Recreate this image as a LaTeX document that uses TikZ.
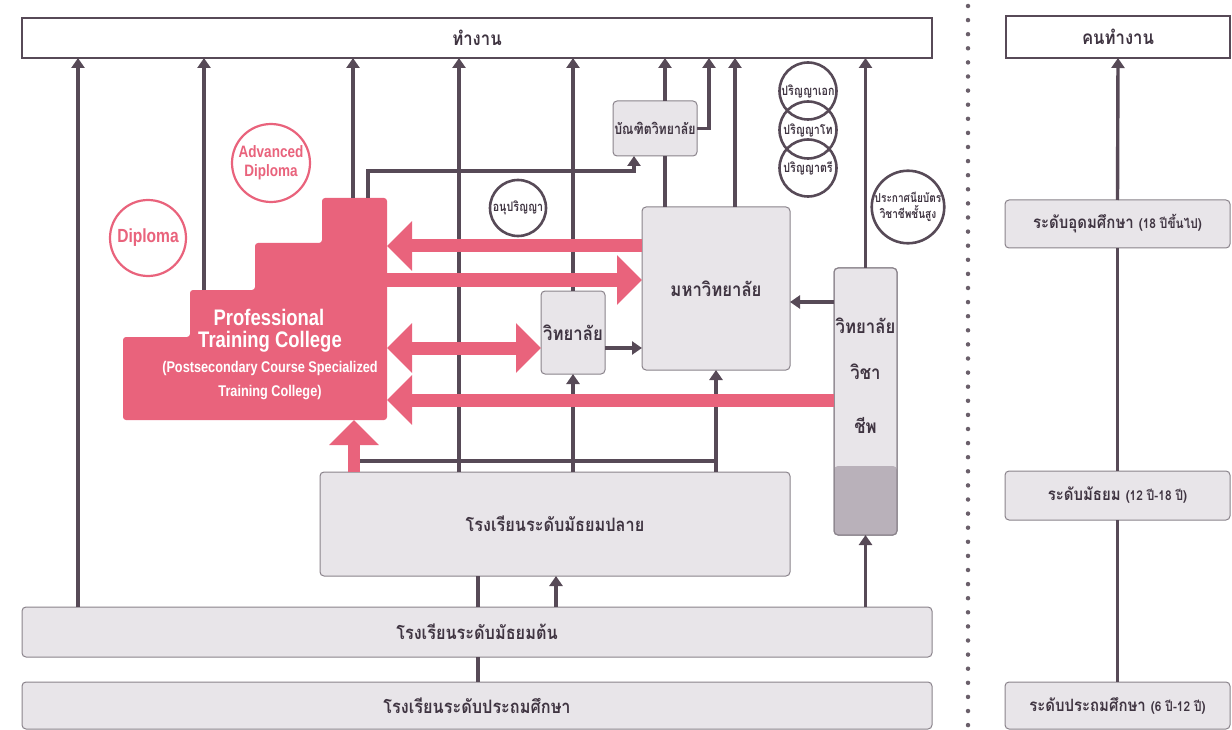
\documentclass[tikz,border=0pt]{standalone}
\usepackage{fontspec}
\setmainfont{Liberation Sans}
\newfontfamily\thai[Script=Thai,FakeStretch=0.88]{Loma}
\newfontfamily\thaic[Script=Thai,FakeStretch=0.82]{Loma}
\newfontfamily\cond[FakeStretch=0.82]{Liberation Sans}
\usetikzlibrary{arrows.meta}
\definecolor{lnc}{HTML}{574A57}
\definecolor{dotc}{HTML}{6A5F6A}
\definecolor{pk}{HTML}{E9637C}
\definecolor{gf}{HTML}{E8E5E9}
\definecolor{gb}{HTML}{8A838B}
\definecolor{gd}{HTML}{B9B1BA}
\definecolor{tx}{HTML}{3F3441}
\tikzset{
  ln/.style={draw=lnc, line width=3.4pt},
  arr/.style={ln, -{Triangle[width=13pt,length=10pt]}},
  gbox/.style={draw=gb, fill=gf, line width=1pt, rounded corners=4pt, inner sep=0pt, outer sep=0pt, text=tx, font=\thai\bfseries\fontsize{18.5}{21}\selectfont},
  wbox/.style={draw=lnc, fill=white, line width=2.4pt, inner sep=0pt, outer sep=0pt, text=tx, font=\thai\bfseries\fontsize{19}{21}\selectfont},
  pkarr/.style={draw=pk, line width=13pt, -{Triangle[width=48pt,length=25pt]}},
  pkdbl/.style={draw=pk, line width=13pt, {Triangle[width=48pt,length=25pt]}-{Triangle[width=48pt,length=25pt]}},
  pcirc/.style={circle, draw=pk, fill=white, line width=2.2pt, text=pk, inner sep=0pt, align=center, font=\cond\bfseries\fontsize{16.5}{19}\selectfont},
  dcirc/.style={circle, draw=lnc, line width=2.6pt, text=tx, inner sep=0pt, align=center, font=\thaic\bfseries\fontsize{13}{15}\selectfont},
  ptct/.style={text=white, font=\cond\bfseries},
  voct/.style={text=tx, font=\thai\bfseries\fontsize{19}{21}\selectfont}
}
\begin{document}
\begin{tikzpicture}[x=1pt,y=-1pt]
\useasboundingbox (0,0) rectangle (1232,730);
% dotted separator
\draw[dotc, line width=4.5pt, line cap=round, dash pattern=on 0pt off 14.1pt] (968,6) -- (968,728);
% top boxes
\node[wbox, minimum width=910pt, minimum height=40pt] (work) at (477,38) {ทำงาน};
\node[wbox, minimum width=224pt, minimum height=42pt] (worker) at (1118,37) {คนทำงาน};
% right column
\node[gbox, minimum width=225pt, minimum height=48pt, font=\thai\bfseries\fontsize{17}{20}\selectfont] (highR) at (1117.5,224) {ระดับอุดมศึกษา {\fontsize{13.5}{15}\selectfont (18 ปีขึ้นไป)}};
\node[gbox, minimum width=225pt, minimum height=49pt, font=\thai\bfseries\fontsize{17}{20}\selectfont] (secR) at (1117.5,495.5) {ระดับมัธยม {\fontsize{13.5}{15}\selectfont (12 ปี-18 ปี)}};
\node[gbox, minimum width=225pt, minimum height=47pt, font=\thai\bfseries\fontsize{17}{20}\selectfont] (primR) at (1117.5,705.5) {ระดับประถมศึกษา {\fontsize{13.5}{15}\selectfont (6 ปี-12 ปี)}};
\draw[arr] (highR.north) -- (worker.south);
\draw[ln] (highR.south) -- (secR.north);
\draw[ln] (secR.south) -- (primR.north);
% left boxes
\node[gbox, minimum width=910pt, minimum height=47pt] (prim) at (477,705.5) {โรงเรียนระดับประถมศึกษา};
\node[gbox, minimum width=910pt, minimum height=50pt] (lowsec) at (477,632) {โรงเรียนระดับมัธยมต้น};
\node[gbox, minimum width=470pt, minimum height=104pt] (upsec) at (555,524) {โรงเรียนระดับมัธยมปลาย};
\node[gbox, minimum width=63pt, minimum height=267pt,
  path picture={\fill[gd] (path picture bounding box.south west) rectangle ([yshift=69pt]path picture bounding box.south east);}] (voc) at (865.5,401.5) {};
\draw[gb, line width=1pt, rounded corners=4pt] (voc.south west) rectangle (voc.north east);
\node[voct] (voct1) at (865.5,326) {วิทยาลัย};
\node[voct] (voct2) at (865.5,372) {วิชา};
\node[voct] (voct3) at (865.5,425) {ชีพ};
\node[gbox, minimum width=148pt, minimum height=163pt, font=\thai\bfseries\fontsize{19}{21}\selectfont] (uni) at (716,288.5) {มหาวิทยาลัย};
\node[gbox, minimum width=64pt, minimum height=83pt, font=\thai\bfseries\fontsize{19}{21}\selectfont] (college) at (573,332.5) {วิทยาลัย};
\node[gbox, minimum width=84pt, minimum height=55pt, font=\thaic\bfseries\fontsize{15}{17}\selectfont] (grad) at (655,128.5) {บัณฑิตวิทยาลัย};
% PTC stair shape
\fill[pk, rounded corners=3pt] (123,420) -- (123,337) -- (190,337) -- (190,290) -- (255,290) -- (255,243) -- (322,243) -- (322,198) -- (387,198) -- (387,420) -- cycle;
\node[inner sep=0pt, outer sep=0pt, minimum width=264pt, minimum height=222pt] (ptc) at (255,309) {};
\node[ptct, font=\cond\bfseries\fontsize{22.5}{24}\selectfont] (p1) at (269,317) {Professional};
\node[ptct, font=\cond\bfseries\fontsize{22.5}{24}\selectfont] (p2) at (270,342) {Training College};
\node[ptct, font=\cond\bfseries\fontsize{15.5}{17}\selectfont] (p3) at (270,368) {(Postsecondary Course Specialized};
\node[ptct, font=\cond\bfseries\fontsize{15.5}{17}\selectfont] (p4) at (270,393) {Training College)};
% circles
\node[pcirc, minimum size=76pt, font=\cond\bfseries\fontsize{19}{21}\selectfont] (dip) at (148,238) {Diploma};
\node[pcirc, minimum size=78pt] (adip) at (271,163) {Advanced\\Diploma};
\node[dcirc, minimum size=56pt] (anu) at (518,208) {อนุปริญญา};
\node[dcirc, minimum size=57pt] (phd) at (808,91) {ปริญญาเอก};
\node[dcirc, minimum size=57pt] (ms) at (808,130) {ปริญญาโท};
\node[dcirc, minimum size=57pt] (ba) at (808,168) {ปริญญาตรี};
\node[dcirc, minimum size=68pt, font=\thaic\bfseries\fontsize{12.3}{16}\selectfont] (cert) at (908,207) {ประกาศนียบัตร\\วิชาชีพชั้นสูง};
% dark connectors
\draw[arr] (lowsec.north -| 78,0) -- (work.south -| 78,0);
\coordinate (s3) at (204,290);
\draw[arr] (s3) -- (work.south -| s3);
\draw[arr] (ptc.north -| 353,0) -- (work.south -| 353,0);
\draw[arr] (ptc.north -| 368,0) -- (368,171) -| (grad.south -| 634,0);
\draw[arr] (upsec.north -| 459,0) -- (work.south -| 459,0);
\draw[arr] (college.north) -- (work.south -| college.north);
\draw[arr] (upsec.north -| college.south) -- (college.south);
\draw[arr] (upsec.north -| 716,0) -- (uni.south -| 716,0);
\draw[ln] (358,461) -- (716,461);
\draw[ln] (uni.north -| 665,0) -- (grad.south -| 665,0);
\draw[arr] (grad.north -| 665,0) -- (work.south -| 665,0);
\draw[arr] (grad.east) -- (grad.east -| 709,0) -- (work.south -| 709,0);
\draw[arr] (uni.north -| 735,0) -- (work.south -| 735,0);
\draw[arr] (voc.north) -- (work.south -| voc.north);
\draw[arr] (voc.west |- 0,302) -- (uni.east |- 0,302);
\draw[arr] (college.east |- 0,348) -- (uni.west |- 0,348);
\draw[ln] (upsec.south -| 478,0) -- (lowsec.north -| 478,0);
\draw[arr] (lowsec.north -| 556,0) -- (upsec.south -| 556,0);
\draw[arr] (lowsec.north -| voc.south) -- (voc.south);
\draw[ln] (lowsec.south -| 478,0) -- (prim.north -| 478,0);
% pink connectors
\draw[pkarr] (uni.west |- 0,246) -- (ptc.east |- 0,246);
\draw[pkarr] (ptc.east |- 0,280) -- (uni.west |- 0,280);
\draw[pkdbl] (ptc.east |- 0,348) -- (college.west |- 0,348);
\draw[pkarr] (voc.west |- 0,400) -- (ptc.east |- 0,400);
\draw[pkarr, line width=12pt] (upsec.north -| 354,0) -- (ptc.south -| 354,0);
\end{tikzpicture}
\end{document}
